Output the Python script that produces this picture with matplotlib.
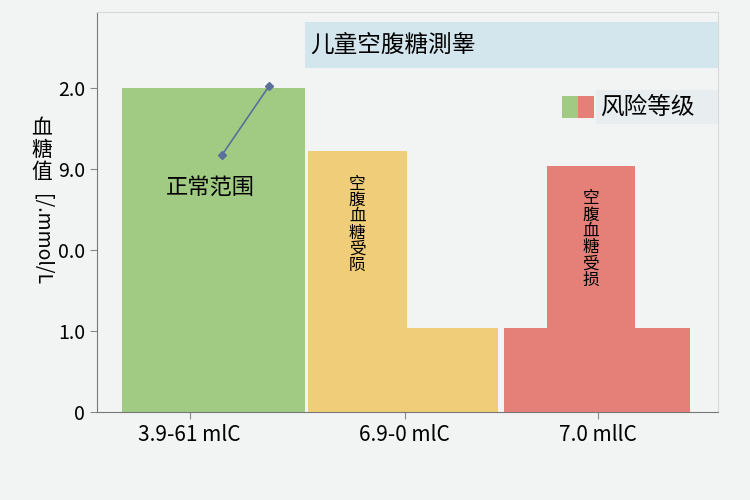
import matplotlib.pyplot as plt
from matplotlib.patches import Rectangle

plt.rcParams['font.family'] = ['Noto Sans CJK SC', 'DejaVu Sans']

# bar data (x in axis units, y in tick units)
bar_left = [25, 211, 211, 407, 450]
bar_width = [183, 99, 190, 186, 88]
bar_height = [4.0, 3.22, 1.04, 1.04, 3.04]
bar_color = ['#a1cb83', '#efcd79', '#efcd79', '#e58079', '#e58079']
bar_text = ['', '空\n腹\n血\n糖\n受\n陨', '', '', '空\n腹\n血\n糖\n受\n损']

ytick_pos = [0, 1, 2, 3, 4]
ytick_labels = ['0', '1.0', '0.0', '9.0', '2.0']
xtick_pos = [93, 308, 501]
xtick_labels = ['3.9-61 mlC', '6.9-0 mlC', '7.0 mllC']

fig = plt.figure(figsize=(7.5, 5), dpi=100)
fig.patch.set_facecolor('#f2f4f3')
ax = fig.add_axes([0.129, 0.176, 0.828, 0.8])
ax.set_facecolor('#f2f4f3')
ax.set_xlim(0, 621)
ax.set_ylim(0, 4.94)

for l, w, h, c, t in zip(bar_left, bar_width, bar_height, bar_color, bar_text):
    ax.bar(l, h, width=w, align='edge', color=c, zorder=2)
    if t:
        ax.text(l + w / 2, h - 0.3, t, ha='center', va='top', fontsize=12, linespacing=0.95, zorder=3)

ax.text(114, 2.78, '正常范围', ha='center', va='center', fontsize=16)
ax.plot([172, 125], [4.02, 3.17], color='#5a6f9a', lw=1.2, marker='D', ms=4, zorder=4)

ax.set_yticks(ytick_pos)
ax.set_yticklabels(ytick_labels, fontsize=14)
ax.set_xticks(xtick_pos)
ax.set_xticklabels(xtick_labels, fontsize=15)
ax.tick_params(length=5, color='#888888')
for s in ['left', 'bottom']:
    ax.spines[s].set_color('#777777')
for s in ['top', 'right']:
    ax.spines[s].set_color('#d8d8d8')

# title box
fig.patches.append(Rectangle((305 / 750, 1 - 68 / 500), 413 / 750, 46 / 500,
                             transform=fig.transFigure, facecolor='#d3e6ee', edgecolor='none'))
fig.text(310 / 750, 1 - 45 / 500, '儿童空腹糖測睾', fontsize=17, va='center')

# legend
fig.patches.append(Rectangle((562 / 750, 1 - 118 / 500), 16 / 750, 22 / 500,
                             transform=fig.transFigure, facecolor='#a1cb83'))
fig.patches.append(Rectangle((578 / 750, 1 - 118 / 500), 16 / 750, 22 / 500,
                             transform=fig.transFigure, facecolor='#e58079'))
fig.patches.append(Rectangle((596 / 750, 1 - 124 / 500), 122 / 750, 34 / 500,
                             transform=fig.transFigure, facecolor='#e8eef0', edgecolor='none'))
fig.text(600 / 750, 1 - 107 / 500, '风险等级', fontsize=17, va='center')

# y label
fig.text(42 / 750, 1 - 150 / 500, '血\n糖\n值', fontsize=15, ha='center', va='center', linespacing=1.0)
fig.text(42 / 750, 1 - 240 / 500, '[/.mmol/L', fontsize=14, ha='center', va='center', rotation=-90)

fig.savefig('out.png', dpi=100, facecolor=fig.get_facecolor())
